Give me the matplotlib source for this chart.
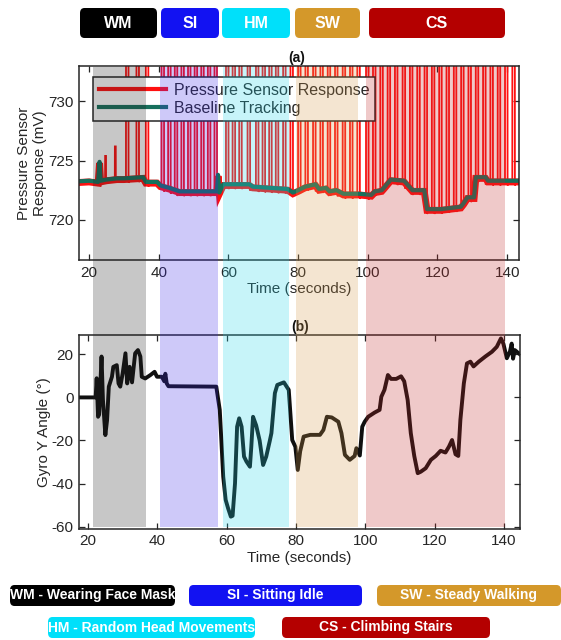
import numpy as np
import matplotlib
matplotlib.use('Agg')
import matplotlib.pyplot as plt
from matplotlib.patches import FancyBboxPatch

plt.rcParams['font.family'] = ['Liberation Sans', 'DejaVu Sans']
plt.rcParams['axes.unicode_minus'] = False

# ---------------- data ----------------
phase_codes = ['WM', 'SI', 'HM', 'SW', 'CS']
phase_names = ['WM - Wearing Face Mask', 'SI - Sitting Idle', 'HM - Random Head Movements',
               'SW - Steady Walking', 'CS - Climbing Stairs']
phase_start = [21.1, 40.3, 58.3, 79.4, 99.6]
phase_end = [36.3, 56.9, 77.4, 97.1, 139.3]

# baseline tracking (mV)
base_t = [17.0, 20.0, 22.6, 23.0, 23.3, 25.0, 28.0, 30.0, 35.5, 36.3, 39.5, 40.5, 43.0, 46.0,
          52.0, 56.7, 57.0, 57.4, 58.5, 66.0, 67.0, 77.0, 78.5, 80.0, 82.0, 85.0, 86.0, 88.0,
          89.0, 91.0, 93.0, 97.4, 101.0, 102.0, 104.0, 104.6, 106.6, 110.4, 112.8, 113.3,
          116.2, 117.0, 121.0, 126.7, 127.5, 128.6, 130.5, 131.0, 133.8, 134.5, 143.6]
base_v = [723.25, 723.3, 723.2, 724.9, 723.3, 723.4, 723.5, 723.5, 723.6, 723.2, 723.2, 722.9,
          722.7, 722.4, 722.4, 722.4, 723.8, 722.3, 723.0, 723.0, 722.8, 722.6, 722.3, 722.5,
          722.8, 723.0, 722.6, 722.7, 722.4, 722.5, 722.2, 722.2, 722.1, 722.4, 722.5, 722.7,
          723.4, 723.3, 722.5, 722.5, 722.5, 720.9, 720.9, 721.1, 721.4, 721.9, 721.9, 723.6,
          723.6, 723.3, 723.3]

# breathing spikes of the pressure sensor (start time, peak mV)
spike_t = [24.6, 27.4, 30.6, 33.6, 36.3, 40.8, 42.7, 44.6, 46.5, 48.4, 50.3, 52.2, 54.1, 56.0,
           59.3, 61.2, 63.1, 65.5, 67.9, 69.8, 71.7, 73.6, 75.7, 77.8, 80.0, 82.1, 84.3, 86.4,
           88.5, 90.6, 92.8, 94.9, 97.0, 99.5, 101.5, 103.6, 105.7, 107.8, 110.0, 112.1, 114.2,
           116.3, 118.4, 120.5, 122.6, 124.7, 126.8, 128.9, 131.0, 133.1, 135.2, 137.3, 139.4,
           141.5]
spike_top = [725.4, 726.2] + [740.0] * 52

# gyro Y angle (deg)
gyro_t = [17.4, 22.2, 22.5, 22.9, 23.2, 23.9, 24.3, 25.0, 25.5, 26.0, 26.9, 27.3, 28.3, 28.8,
          29.3, 30.0, 30.8, 31.3, 32.0, 32.7, 33.6, 34.4, 35.1, 35.5, 36.5, 38.0, 39.2, 39.9,
          41.3, 42.0, 42.3, 42.7, 43.2, 57.0, 58.0, 59.0, 59.7, 60.4, 61.2, 61.7, 62.4, 63.0,
          63.6, 64.3, 65.0, 65.7, 66.7, 67.1, 67.6, 68.5, 69.5, 70.5, 71.4, 72.4, 72.9, 73.9,
          74.6, 76.5, 77.9, 78.9, 79.8, 80.5, 81.2, 82.2, 84.1, 86.9, 87.9, 88.9, 90.3, 92.2,
          93.1, 94.1, 95.5, 96.9, 97.4, 98.4, 99.1, 99.8, 100.8, 102.7, 104.1, 104.6, 105.5,
          106.5, 107.4, 108.9, 110.3, 111.2, 112.2, 113.1, 114.1, 115.1, 116.0, 117.4, 118.9,
          120.3, 121.7, 123.1, 124.1, 125.0, 126.0, 126.8, 127.4, 128.4, 129.3, 130.3, 131.2,
          132.7, 134.6, 136.5, 137.9, 139.1, 139.8, 140.8, 141.7, 142.2, 142.6, 143.1, 144.6]
gyro_v = [0, 0, 8.9, -9, -8, 19, -1, -17.5, -10.5, 5, 9.6, 14.2, 15, 6.5,
          5, 11.2, 20.5, 6.5, 14.2, 7, 20.5, 22, 19, 9.6, 8.8, 10.4, 11.9, 9.6,
          9.6, 7.5, 11, 6.5, 5.2, 5.0, -5.8, -36.8, -47.6, -51.5, -55.4, -55, -39.9, -13.6,
          -9.7, -13.6, -27.5, -29.8, -32.2, -22.9, -9, -13, -20, -31.4, -27.5, -20.4, -16.6, 2,
          5.8, 7, 3.5, -19.8, -22.9, -33.7, -25, -18.2, -17.4, -17.4, -15.1, -9, -9.3, -11.3,
          -16.6, -26.7, -29, -27.2, -23.6, -27, -13.6, -11.3, -9, -7, -5.8, 0.3, 3.5,
          10.4, 8.6, 8.6, 9.8, 7.5, -1.2, -16.6, -27.2, -35.2, -34.5, -32.9, -29,
          -27.2, -24.8, -25.6, -22.9, -19.8, -26.4, -27.2, -10.5, 6.5, 15.8, 16.6, 14.4,
          16.6, 19, 21.2, 23.5, 27.4, 25, 18.2, 21.3, 25, 18, 22, 20]

# ---------------- styling ----------------
W, H = 561, 640
box_colors = ['#000000', '#1212f2', '#00e0fa', '#d4982a', '#b40000']
shade_colors = [(35, 35, 35), (60, 40, 235), (35, 215, 235), (215, 155, 75), (195, 40, 40)]
shade_colors = [tuple(c / 255 for c in col) for col in shade_colors]
axis_col = '#262626'


def fx(px):
    return px / W


def fy(py):
    return 1 - py / H


def pressure_trace():
    bt = np.asarray(base_t)
    bv = np.asarray(base_v)
    pts = []
    intervals = []
    for st, top in zip(spike_t, spike_top):
        full = top > 730
        w = 0.7 if full else 0.25
        rec = 0.5
        b0 = np.interp(st, bt, bv)
        b1 = np.interp(st + w + rec, bt, bv)
        dip = 0.4 if full else 0.15
        pts += [(st - 0.02, b0), (st, top), (st + w, top), (st + w + 0.02, b1 - dip),
                (st + w + rec, b1 - 0.1)]
        intervals.append((st - 0.02, st + w + rec))
    for t, v in zip(bt, bv):
        if not any(a <= t <= b for a, b in intervals):
            pts.append((t, v - 0.05))
    pts.sort(key=lambda p: p[0])
    return [p[0] for p in pts], [p[1] for p in pts]


fig = plt.figure(figsize=(W / 100, H / 100), dpi=100)
fig.patch.set_facecolor('white')

xl_a = (17.1, 143.4)
xl_b = (17.4, 144.6)


def style_axes(ax):
    for s in ax.spines.values():
        s.set_color(axis_col)
        s.set_linewidth(1.1)
    ax.tick_params(direction='in', length=4, width=0.9, top=True, right=True,
                   colors=axis_col, labelsize=11, pad=4)
    ax.set_facecolor('none')


# ---- panel (a)
ax1 = fig.add_axes([fx(79), fy(260), fx(440), 194 / H])
pt, pv = pressure_trace()
ax1.plot(base_t, [v - 0.1 for v in base_v], color='#ff1010', lw=5.0, solid_joinstyle='miter')
ax1.plot(pt, pv, color='#ff1010', lw=1.3, solid_joinstyle='miter',
         label='Pressure Sensor Response')
ax1.plot(base_t, base_v, color='#17705c', lw=3.0, label='Baseline Tracking')
ax1.set_xlim(*xl_a)
ax1.set_ylim(716.6, 733.0)
ax1.set_xticks([20, 40, 60, 80, 100, 120, 140])
ax1.set_yticks([720, 725, 730])
style_axes(ax1)
ax1.set_xlabel('Time (seconds)', fontsize=11, color=axis_col, labelpad=2)
ax1.set_ylabel('Pressure Sensor\nResponse (mV)', fontsize=11, color=axis_col, labelpad=1,
               linespacing=1.15)
leg = ax1.legend(loc='upper left', bbox_to_anchor=(0.032, 0.943), borderaxespad=0,
                 fontsize=11.5, frameon=True, fancybox=False, handlelength=4.2,
                 handletextpad=0.5, borderpad=0.35, labelspacing=0.2)
leg.get_frame().set_edgecolor(axis_col)
leg.get_frame().set_linewidth(1.1)
leg.get_frame().set_facecolor('white')
leg.get_frame().set_alpha(1)
for h in leg.legend_handles:
    h.set_linewidth(3.0)
for txt in leg.get_texts():
    txt.set_color(axis_col)
fig.text(fx(297), fy(58), '(a)', fontsize=10, fontweight='bold', ha='center', va='center',
         color='#111111')

# ---- panel (b)
ax2 = fig.add_axes([fx(79), fy(528.7), fx(441), 193.7 / H])
ax2.plot(gyro_t, gyro_v, color='#101010', lw=2.8)
ax2.set_xlim(*xl_b)
ax2.set_ylim(-61, 29)
ax2.set_xticks([20, 40, 60, 80, 100, 120, 140])
ax2.set_yticks([-60, -40, -20, 0, 20])
style_axes(ax2)
ax2.set_xlabel('Time (seconds)', fontsize=11, color=axis_col, labelpad=2)
ax2.set_ylabel('Gyro Y Angle (°)', fontsize=11, color=axis_col, labelpad=0)
fig.text(fx(300), fy(327), '(b)', fontsize=10, fontweight='bold', ha='center', va='center',
         color='#111111')

# ---- shading overlay spanning both panels
ov = fig.add_axes([fx(79), fy(527), fx(440), (527 - 67) / H], zorder=10)
ov.set_xlim(*xl_a)
ov.set_ylim(0, 1)
ov.axis('off')
ov.patch.set_alpha(0)
for s, e, c in zip(phase_start, phase_end, shade_colors):
    ov.axvspan(s, e, color=c, alpha=0.25, lw=0)


# ---- label boxes
def label_box(x0, x1, y0, y1, text, color, size):
    p = FancyBboxPatch((fx(x0), fy(y1)), fx(x1 - x0), (y1 - y0) / H,
                       boxstyle='round,pad=0,rounding_size=0.008',
                       transform=fig.transFigure, fc=color, ec='none', zorder=20)
    fig.patches.append(p)
    fig.text(fx((x0 + x1) / 2), fy((y0 + y1) / 2), text, ha='center', va='center',
             color='white', fontsize=size, fontweight='bold', zorder=21)


top_boxes = [(80, 157), (161, 219), (222, 290), (295, 360), (369, 505)]
for (x0, x1), code, col in zip(top_boxes, phase_codes, box_colors):
    label_box(x0, x1, 8, 38, code, col, 11.5)

bottom_boxes = {0: (10, 175, 585, 606), 1: (189, 362, 585, 606), 3: (377, 561, 585, 606),
                2: (48, 255, 617, 638), 4: (282, 490, 617, 638)}
for i, (x0, x1, y0, y1) in bottom_boxes.items():
    label_box(x0, x1, y0, y1, phase_names[i], box_colors[i], 10)

fig.savefig('out.png', dpi=100)
